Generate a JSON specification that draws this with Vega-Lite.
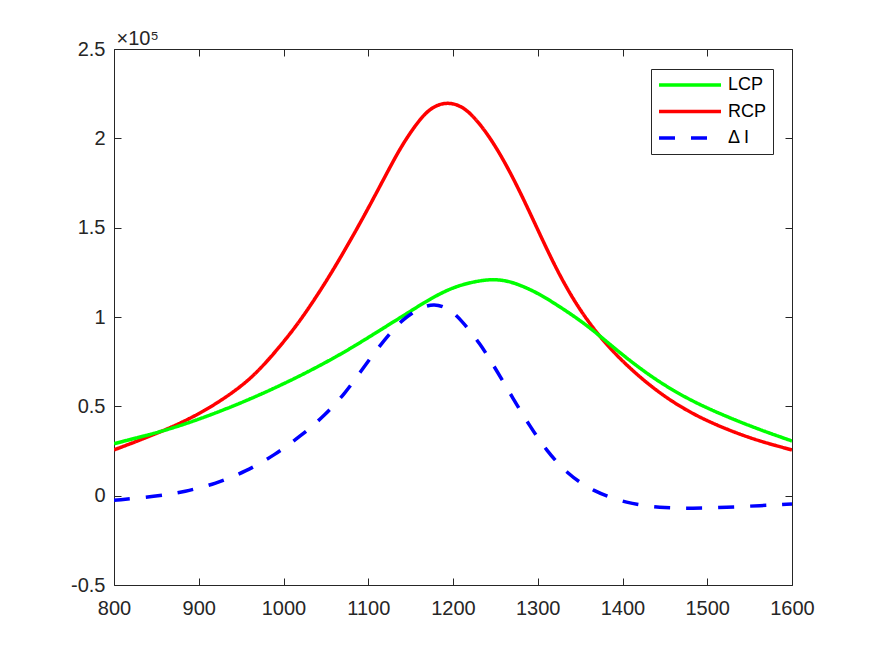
{
  "$schema": "https://vega.github.io/schema/vega-lite/v6.json",
  "width": 678,
  "height": 536,
  "autosize": {"type": "none"},
  "padding": {"left": 114, "top": 49, "right": 83, "bottom": 71},
  "background": "white",
  "data": {
    "values": [
      {"x": 800, "y": 25600, "series": "RCP"},
      {"x": 850, "y": 34600, "series": "RCP"},
      {"x": 900, "y": 45100, "series": "RCP"},
      {"x": 950, "y": 60600, "series": "RCP"},
      {"x": 975, "y": 72100, "series": "RCP"},
      {"x": 997, "y": 84200, "series": "RCP"},
      {"x": 1019, "y": 97400, "series": "RCP"},
      {"x": 1043, "y": 114400, "series": "RCP"},
      {"x": 1062, "y": 129000, "series": "RCP"},
      {"x": 1082, "y": 145400, "series": "RCP"},
      {"x": 1102, "y": 162600, "series": "RCP"},
      {"x": 1123, "y": 181500, "series": "RCP"},
      {"x": 1140, "y": 196500, "series": "RCP"},
      {"x": 1161, "y": 211000, "series": "RCP"},
      {"x": 1176, "y": 217800, "series": "RCP"},
      {"x": 1192, "y": 220200, "series": "RCP"},
      {"x": 1208, "y": 218700, "series": "RCP"},
      {"x": 1224, "y": 212800, "series": "RCP"},
      {"x": 1247, "y": 198500, "series": "RCP"},
      {"x": 1271, "y": 178100, "series": "RCP"},
      {"x": 1294, "y": 155100, "series": "RCP"},
      {"x": 1318, "y": 130400, "series": "RCP"},
      {"x": 1343, "y": 108400, "series": "RCP"},
      {"x": 1373, "y": 88600, "series": "RCP"},
      {"x": 1405, "y": 72600, "series": "RCP"},
      {"x": 1444, "y": 57000, "series": "RCP"},
      {"x": 1483, "y": 45500, "series": "RCP"},
      {"x": 1523, "y": 37000, "series": "RCP"},
      {"x": 1562, "y": 30400, "series": "RCP"},
      {"x": 1600, "y": 25600, "series": "RCP"},
      {"x": 800, "y": 29100, "series": "LCP"},
      {"x": 856, "y": 35800, "series": "LCP"},
      {"x": 896, "y": 42000, "series": "LCP"},
      {"x": 935, "y": 49000, "series": "LCP"},
      {"x": 974, "y": 56800, "series": "LCP"},
      {"x": 1014, "y": 65700, "series": "LCP"},
      {"x": 1049, "y": 74300, "series": "LCP"},
      {"x": 1079, "y": 82300, "series": "LCP"},
      {"x": 1118, "y": 93800, "series": "LCP"},
      {"x": 1140, "y": 100300, "series": "LCP"},
      {"x": 1165, "y": 107800, "series": "LCP"},
      {"x": 1185, "y": 113200, "series": "LCP"},
      {"x": 1204, "y": 117200, "series": "LCP"},
      {"x": 1225, "y": 119800, "series": "LCP"},
      {"x": 1245, "y": 121200, "series": "LCP"},
      {"x": 1264, "y": 120400, "series": "LCP"},
      {"x": 1284, "y": 117000, "series": "LCP"},
      {"x": 1302, "y": 112800, "series": "LCP"},
      {"x": 1322, "y": 107000, "series": "LCP"},
      {"x": 1348, "y": 98800, "series": "LCP"},
      {"x": 1369, "y": 91200, "series": "LCP"},
      {"x": 1405, "y": 76700, "series": "LCP"},
      {"x": 1444, "y": 63200, "series": "LCP"},
      {"x": 1483, "y": 52600, "series": "LCP"},
      {"x": 1523, "y": 44200, "series": "LCP"},
      {"x": 1562, "y": 36900, "series": "LCP"},
      {"x": 1600, "y": 30600, "series": "LCP"},
      {"x": 800, "y": -2600, "series": "Δ I"},
      {"x": 849, "y": -400, "series": "Δ I"},
      {"x": 884, "y": 2200, "series": "Δ I"},
      {"x": 920, "y": 6700, "series": "Δ I"},
      {"x": 955, "y": 13400, "series": "Δ I"},
      {"x": 990, "y": 22800, "series": "Δ I"},
      {"x": 1022, "y": 34000, "series": "Δ I"},
      {"x": 1049, "y": 45000, "series": "Δ I"},
      {"x": 1073, "y": 57500, "series": "Δ I"},
      {"x": 1090, "y": 68800, "series": "Δ I"},
      {"x": 1110, "y": 81800, "series": "Δ I"},
      {"x": 1129, "y": 92800, "series": "Δ I"},
      {"x": 1141, "y": 98500, "series": "Δ I"},
      {"x": 1157, "y": 104200, "series": "Δ I"},
      {"x": 1178, "y": 108000, "series": "Δ I"},
      {"x": 1195, "y": 104500, "series": "Δ I"},
      {"x": 1208, "y": 99300, "series": "Δ I"},
      {"x": 1232, "y": 85300, "series": "Δ I"},
      {"x": 1251, "y": 70400, "series": "Δ I"},
      {"x": 1271, "y": 54300, "series": "Δ I"},
      {"x": 1291, "y": 38600, "series": "Δ I"},
      {"x": 1310, "y": 25500, "series": "Δ I"},
      {"x": 1334, "y": 12500, "series": "Δ I"},
      {"x": 1365, "y": 2400, "series": "Δ I"},
      {"x": 1405, "y": -4300, "series": "Δ I"},
      {"x": 1444, "y": -6800, "series": "Δ I"},
      {"x": 1483, "y": -7200, "series": "Δ I"},
      {"x": 1523, "y": -6500, "series": "Δ I"},
      {"x": 1562, "y": -5600, "series": "Δ I"},
      {"x": 1600, "y": -4600, "series": "Δ I"}
    ]
  },
  "layer": [
    {
      "mark": {"type": "line", "interpolate": "basis", "strokeWidth": 3.5, "clip": true},
      "encoding": {
        "x": {
          "field": "x",
          "type": "quantitative",
          "scale": {"domain": [800, 1600], "nice": false, "zero": false},
          "axis": {
            "title": null,
            "format": "d",
            "values": [800, 900, 1000, 1100, 1200, 1300, 1400, 1500, 1600],
            "labelPadding": 20
          }
        },
        "y": {
          "field": "y",
          "type": "quantitative",
          "scale": {"domain": [-50000, 250000], "nice": false, "zero": false},
          "axis": {
            "values": [-50000, 0, 50000, 100000, 150000, 200000, 250000],
            "labelExpr": "'' + datum.value / 100000",
            "labelPadding": 16,
            "title": "×10⁵",
            "titleAngle": 0,
            "titleAlign": "left",
            "titleBaseline": "alphabetic",
            "titleX": 2,
            "titleY": -5,
            "titleFont": "Liberation Sans",
            "titleFontSize": 20,
            "titleFontWeight": "normal",
            "titleColor": "#262626"
          }
        },
        "color": {
          "field": "series",
          "type": "nominal",
          "scale": {"domain": ["LCP", "RCP", "Δ I"], "range": ["#00ff00", "#ff0000", "#0000ff"]},
          "legend": {"title": null}
        },
        "strokeDash": {
          "field": "series",
          "type": "nominal",
          "scale": {"domain": ["LCP", "RCP", "Δ I"], "range": [[1, 0], [1, 0], [16, 16]]},
          "legend": {"title": null}
        }
      }
    },
    {
      "mark": {"type": "line", "opacity": 0},
      "encoding": {
        "x": {
          "field": "x",
          "type": "quantitative",
          "axis": {
            "orient": "top",
            "title": null,
            "labels": false,
            "values": [800, 900, 1000, 1100, 1200, 1300, 1400, 1500, 1600]
          }
        },
        "y": {
          "field": "y",
          "type": "quantitative",
          "axis": {
            "orient": "right",
            "title": null,
            "labels": false,
            "values": [-50000, 0, 50000, 100000, 150000, 200000, 250000]
          }
        }
      }
    }
  ],
  "resolve": {"axis": {"x": "independent", "y": "independent"}},
  "config": {
    "view": {"stroke": null},
    "axis": {
      "grid": false,
      "domainColor": "#262626",
      "domainWidth": 1,
      "tickColor": "#262626",
      "tickWidth": 1,
      "tickSize": -7,
      "labelColor": "#262626",
      "labelFont": "Liberation Sans",
      "labelFontSize": 20,
      "labelFlush": false,
      "labelOverlap": false
    },
    "legend": {
      "orient": "none",
      "legendX": 537,
      "legendY": 20,
      "strokeColor": "#262626",
      "fillColor": "white",
      "padding": 6,
      "symbolType": "stroke",
      "symbolSize": 3844,
      "symbolStrokeWidth": 3.5,
      "clipHeight": 20,
      "rowPadding": 6.5,
      "labelFont": "Liberation Sans",
      "labelFontSize": 18,
      "labelColor": "#000000",
      "labelOffset": 5
    }
  }
}
